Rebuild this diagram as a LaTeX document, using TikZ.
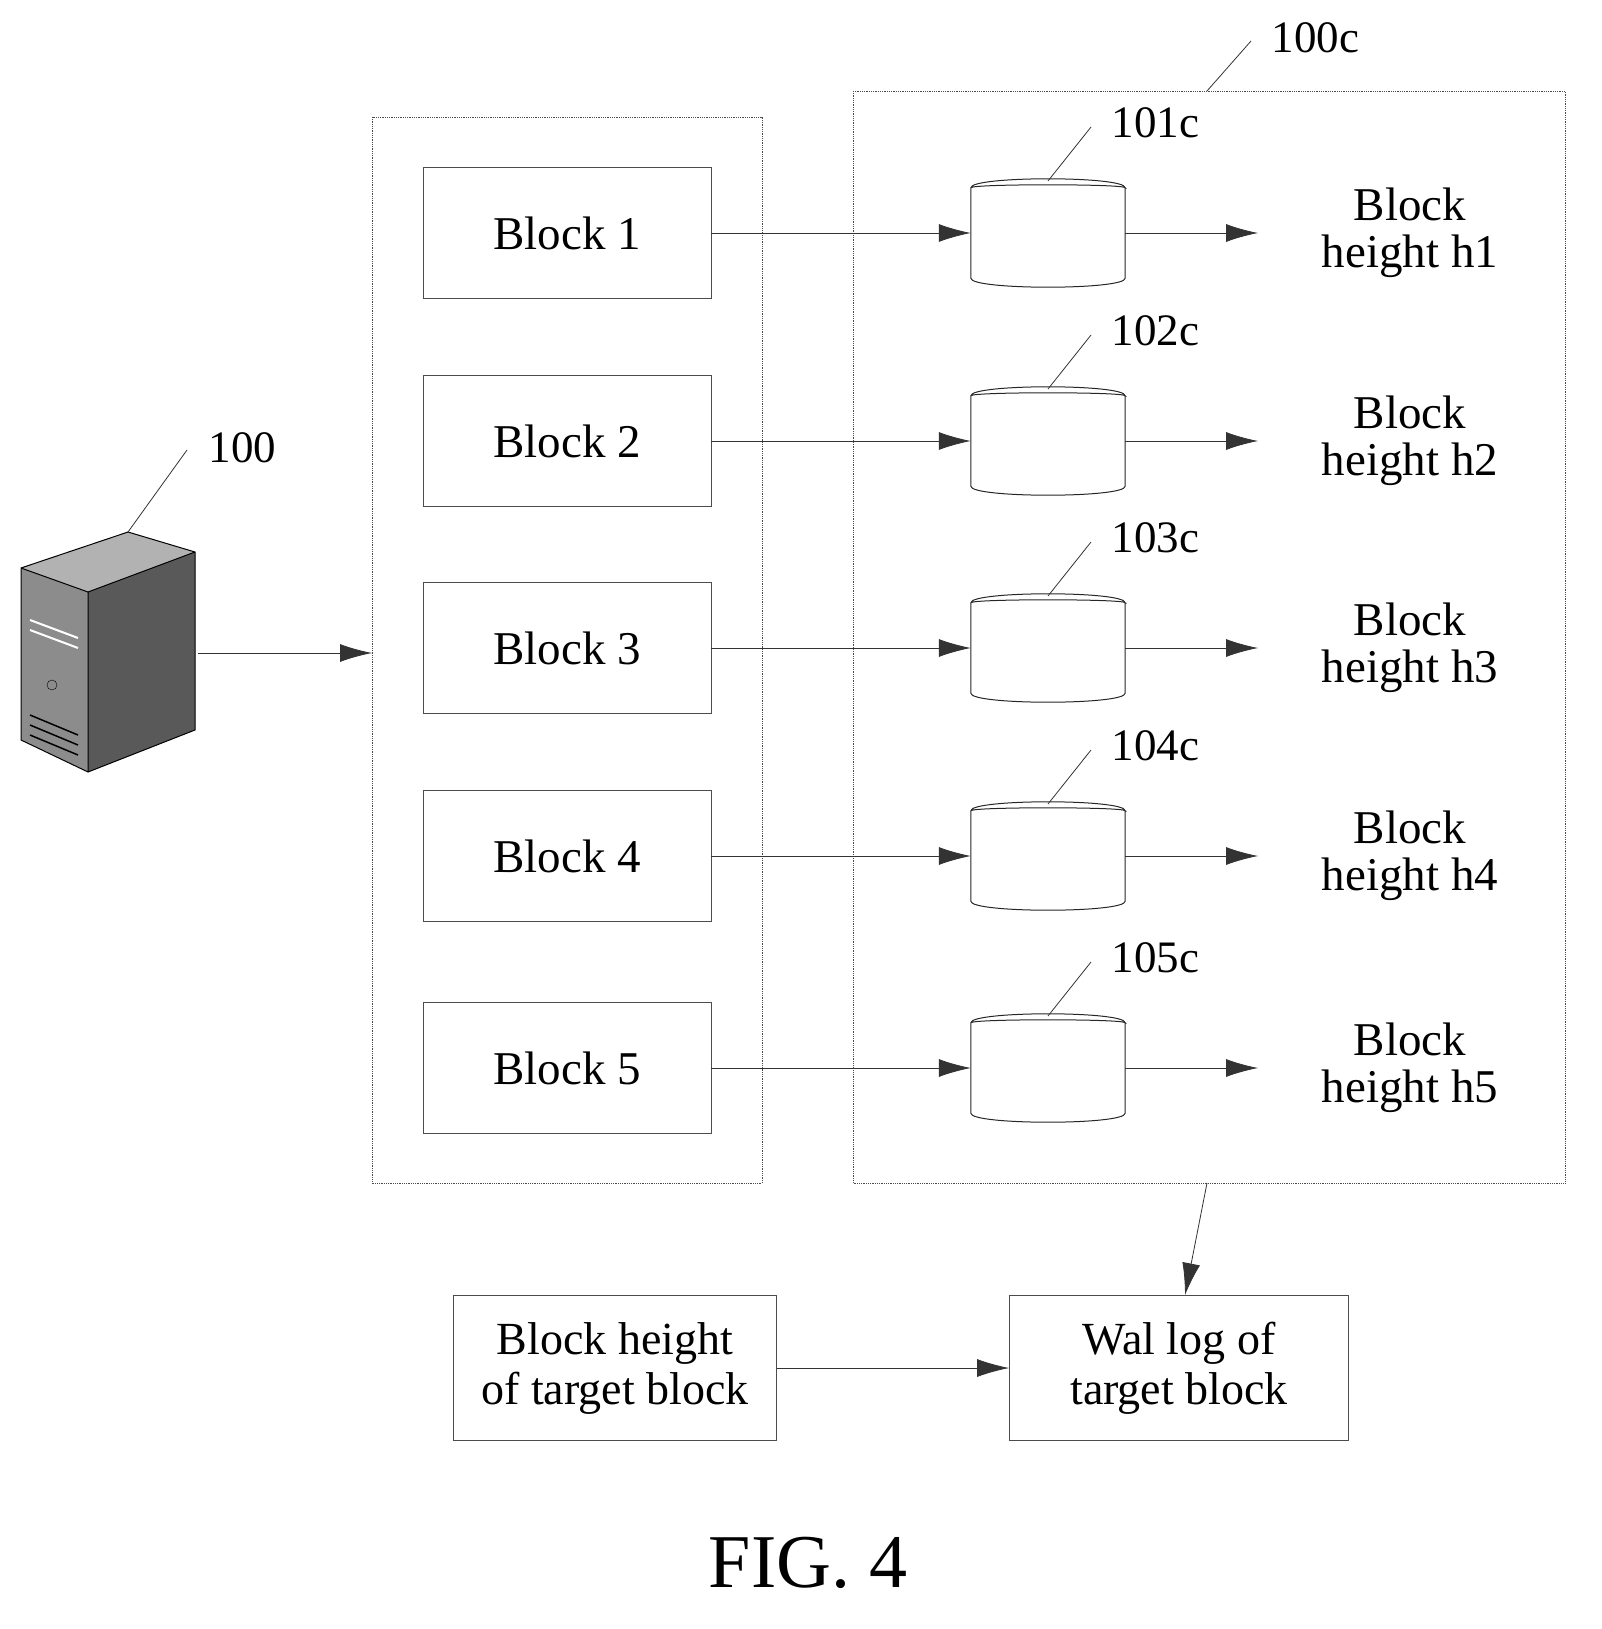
\documentclass[tikz,border=0pt]{standalone}
\usepackage{fontspec}
\setmainfont{Liberation Serif}
\usetikzlibrary{arrows.meta}
\begin{document}
\begin{tikzpicture}[x=1pt,y=-1pt,
 box/.style={draw=black!70,line width=0.8pt,densely dotted},
 blk/.style={draw=black!70,line width=0.8pt,minimum width=288,minimum height=131,font=\fontsize{47}{52}\selectfont},
 cyl/.style={minimum width=154,minimum height=90,inner sep=0pt},
 cline/.style={draw=black!85,line width=1pt},
 arr/.style={draw=black!80,line width=0.8pt,-{Latex[length=32,width=18]}},
 lbl/.style={font=\fontsize{45}{48}\selectfont},
 ht/.style={font=\fontsize{47}{47}\selectfont,align=center},
 lead/.style={draw=black!80,line width=0.8pt}]
\useasboundingbox (0,0) rectangle (1602,1629);
\draw[box] (372,117) rectangle (762,1183);
\draw[box] (853,91) rectangle (1565,1183);
\foreach \i/\y in {1/233,2/441,3/648,4/856,5/1068}{
 \node[blk] (b\i) at (567,\y) {Block \i};
 \node[cyl] (c\i) at (1048,\y) {};
 \draw[cline] (c\i.north west) .. controls ([yshift=12]c\i.north west) and ([yshift=12]c\i.north east) .. (c\i.north east)
   .. controls ([yshift=4]c\i.north east) and ([yshift=4]c\i.north west) .. (c\i.north west) -- (c\i.south west)
   .. controls ([yshift=-12]c\i.south west) and ([yshift=-12]c\i.south east) .. (c\i.south east) -- (c\i.north east);
 \node[ht] (h\i) at (1410,\y) {Block\\height h\i};
 \draw[arr] (b\i.east) -- (c\i.west);
 \coordinate (e\i) at (1258,\y);
 \draw[arr] (c\i.east) -- (e\i);
 \coordinate (la\i) at (1048,\y-52);
 \coordinate (lb\i) at (1091,\y-106);
 \draw[lead] (la\i) -- (lb\i);
 \node[lbl,anchor=west] (t\i) at (1108,\y-110) {10\i c};
}
\coordinate (ca) at (1207,91); \coordinate (cb) at (1251,41);
\draw[lead] (ca) -- (cb);
\node[lbl,anchor=west] (t100c) at (1268,38) {100c};
% server
\fill[black!45] (21,568) -- (88,592) -- (88,772) -- (21,740) -- cycle;
\fill[black!65] (88,592) -- (195,552) -- (195,730) -- (88,772) -- cycle;
\fill[black!30] (21,568) -- (128,532) -- (195,552) -- (88,592) -- cycle;
\draw[black,line width=1pt] (21,568) -- (128,532) -- (195,552) -- (195,730) -- (88,772) -- (21,740) -- cycle (88,592)--(88,772) (21,568)--(88,592)--(195,552);
\draw[white,line width=2pt] (30,620)--(78,638) (30,630)--(78,648);
\draw[black,line width=1.5pt] (30,725)--(78,745) (30,735)--(78,755) (30,715)--(78,735);
\draw[black] (52,685) circle (5);
\coordinate (s1) at (128,532); \coordinate (s2) at (187,450);
\draw[lead] (s1) -- (s2);
\node[lbl,anchor=west] (t100) at (205,448) {100};
\coordinate (sv) at (198,653);
\coordinate (li) at (372,653);
\draw[arr] (sv) -- (li);
\node[blk,minimum width=323,minimum height=145,align=center,font=\fontsize{46}{50}\selectfont] (bh) at (615,1368) {Block height\\of target block};
\node[blk,minimum width=339,minimum height=145,align=center,font=\fontsize{46}{50}\selectfont] (wl) at (1179,1368) {Wal log of\\target block};
\draw[arr] (bh) -- (wl);
\coordinate (rb) at (1207,1183);
\draw[arr] (rb) -- (wl.north-|1185,0);
\node[font=\fontsize{76}{80}\selectfont] (fig) at (808,1563) {FIG. 4};
\end{tikzpicture}
\end{document}
